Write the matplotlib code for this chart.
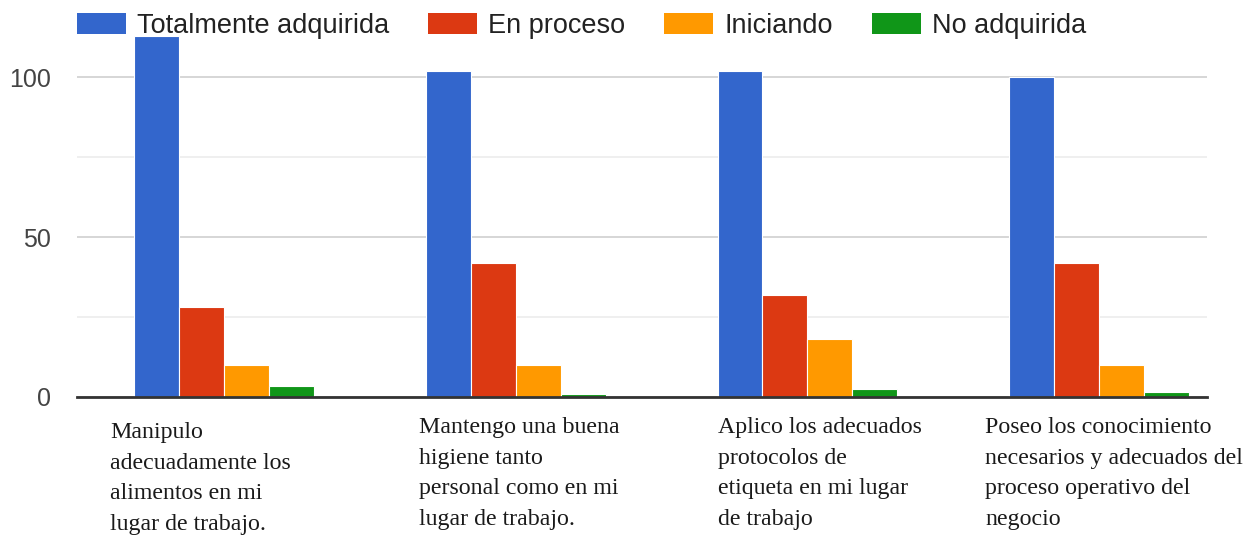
import matplotlib
matplotlib.use("Agg")
import matplotlib.pyplot as plt
import numpy as np
from matplotlib.patches import Patch

categories = [
    "Manipulo\nadecuadamente los\nalimentos en mi\nlugar de trabajo.",
    "Mantengo una buena\nhigiene tanto\npersonal como en mi\nlugar de trabajo.",
    "Aplico los adecuados\nprotocolos de\netiqueta en mi lugar\nde trabajo",
    "Poseo los conocimiento\nnecesarios y adecuados del\nproceso operativo del\nnegocio",
]
series_names = ["Totalmente adquirida", "En proceso", "Iniciando", "No adquirida"]
totalmente = [113, 102, 102, 100]
en_proceso = [28, 42, 32, 42]
iniciando = [10, 10, 18, 10]
no_adquirida = [3.5, 1, 2.3, 1.6]
yticks = [0, 50, 100]

colors = ["#3366CC", "#DC3912", "#FF9900", "#109618"]
series = [totalmente, en_proceso, iniciando, no_adquirida]

W, H = 1254, 539
fig = plt.figure(figsize=(W / 100, H / 100), dpi=100)
ax = fig.add_axes([77 / W, 1 - 396.7 / H, (1207 - 77) / W, (396.7 - 20) / H])

x = np.arange(len(categories))
bw = 0.154
for i, (vals, c) in enumerate(zip(series, colors)):
    ax.bar(x + (i - 1.5) * bw, vals, width=bw, color=c, edgecolor="white",
           linewidth=0.8, zorder=3)

ax.set_xlim(-0.504, 3.370)
ax.set_ylim(0, 118)
ax.set_yticks(yticks)
ax.set_yticks([25, 75], minor=True)
ax.yaxis.grid(True, which="major", color="#cccccc", linewidth=1.1, zorder=0)
ax.yaxis.grid(True, which="minor", color="#ebebeb", linewidth=1.1, zorder=0)
ax.tick_params(axis="y", which="both", length=0, pad=19, labelsize=18,
               labelcolor="#444444")
for lab in ax.get_yticklabels():
    lab.set_fontfamily("Liberation Sans")
ax.set_xticks([])
for s in ["top", "right", "left"]:
    ax.spines[s].set_visible(False)
ax.spines["bottom"].set_color("#333333")
ax.spines["bottom"].set_linewidth(2)
ax.spines["bottom"].set_zorder(4)

# category labels (serif, left aligned, wrapped)
label_dx = [-0.391, -0.333, -0.308, -0.391]
label_top = [422, 417, 417, 417]
trans = matplotlib.transforms.blended_transform_factory(ax.transData, fig.transFigure)
for i, txt in enumerate(categories):
    ax.text(x[i] + label_dx[i], 1 - label_top[i] / H, txt, transform=trans,
            ha="left", va="top", fontsize=17.2, family="Liberation Serif",
            color="#1a1a1a", linespacing=1.6)

handles = [Patch(facecolor=c, edgecolor="none") for c in colors]
fs = 19.5
em = fs / 72 * 100
fig.legend(handles, series_names, loc="center left",
           bbox_to_anchor=(77 / W, 1 - 26 / H), ncol=4, frameon=False,
           prop={"family": "Liberation Sans", "size": fs},
           handlelength=49 / em, handleheight=22 / em, handletextpad=11 / em,
           columnspacing=39 / em, borderpad=0, borderaxespad=0, labelcolor="#222222")

fig.savefig("out.png", dpi=100)
